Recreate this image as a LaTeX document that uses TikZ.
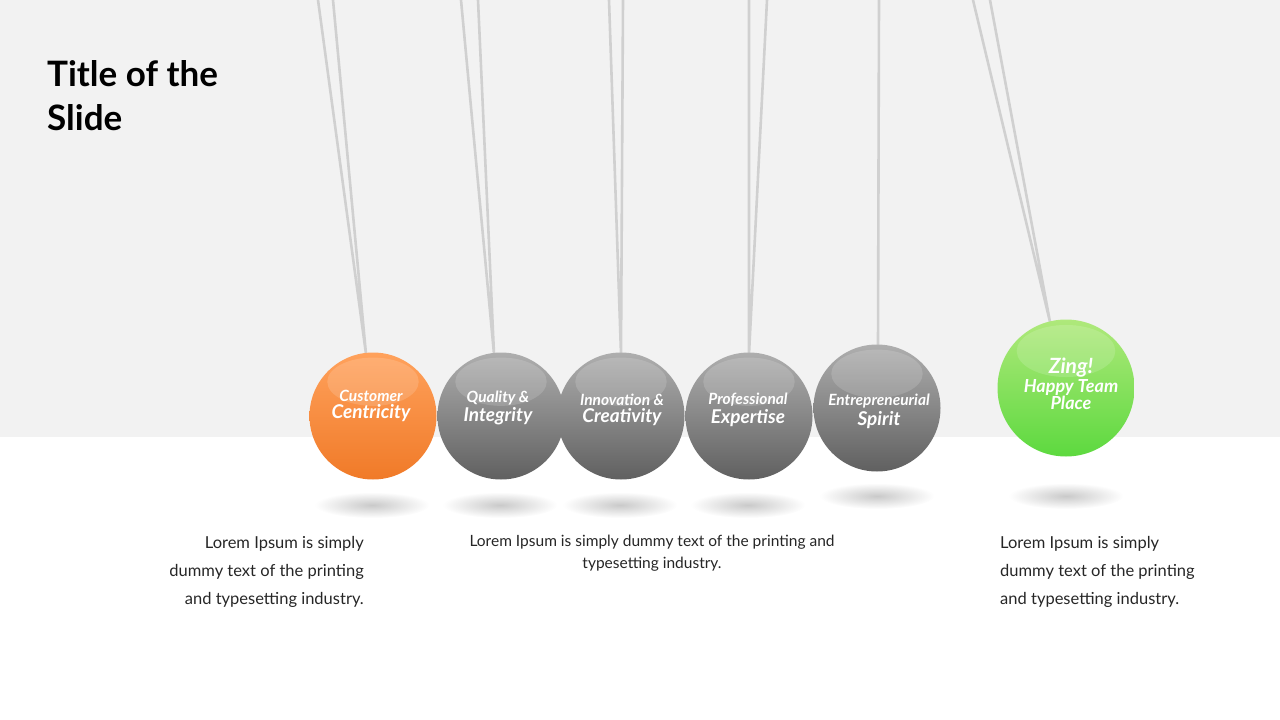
\documentclass[tikz,border=0pt]{standalone}
\usepackage{fontspec}
\setmainfont{Lato}
\usetikzlibrary{shapes.geometric}
\definecolor{bggray}{HTML}{F2F2F2}
\definecolor{orng}{HTML}{FF8A33}
\definecolor{orngd}{HTML}{F07A28}
\definecolor{grl}{HTML}{9A9A9A}
\definecolor{grd}{HTML}{606060}
\definecolor{grnl}{HTML}{9BE35A}
\definecolor{grnd}{HTML}{5DD93F}
\definecolor{strc}{HTML}{D0D0D0}
\tikzset{
  ball/.style={circle, minimum size=#1, inner sep=0pt, font=\bfseries\itshape, text=white, align=center},
  strg/.style={draw=strc, line width=2.6pt},
  shad/.style={ellipse, minimum width=115pt, minimum height=26pt, inner sep=0pt, inner color=black!35, outer color=white!0, opacity=0.6},
  body/.style={font=\fontsize{16.5}{28}\selectfont, text=black!85, align=#1}
}
\newcommand{\ballsm}[1]{{\fontsize{15.5}{17}\selectfont #1}}
\newcommand{\balllg}[1]{{\fontsize{19}{20}\selectfont #1}}
\begin{document}
\begin{tikzpicture}[x=1pt,y=-1pt]
\useasboundingbox (0,0) rectangle (1280,720);
\fill[bggray] (0,0) rectangle (1280,437);
\foreach \x/\y/\n in {372/505/s1,500/505/s2,620/505/s3,748/505/s4,877/496/s5,1066/496/s6}
  \node[shad] (\n) at (\x,\y) {};
\coordinate (t1a) at (318,0); \coordinate (t1b) at (333,0);
\coordinate (t2a) at (461,0); \coordinate (t2b) at (478,0);
\coordinate (t3a) at (609,0); \coordinate (t3b) at (623,0);
\coordinate (t4a) at (749,0); \coordinate (t4b) at (767,0);
\coordinate (t5a) at (879,0);
\coordinate (t6a) at (973,0); \coordinate (t6b) at (990,0);
\coordinate (k1) at (366,354); \coordinate (k2) at (494,354);
\coordinate (k3) at (621,354); \coordinate (k4) at (749,354);
\coordinate (k5) at (878,346); \coordinate (k6) at (1050,322);
\draw[strg] (t1a) -- (k1) -- (t1b);
\draw[strg] (t2a) -- (k2) -- (t2b);
\draw[strg] (t3a) -- (k3) -- (t3b);
\draw[strg] (t4a) -- (k4) -- (t4b);
\draw[strg] (t5a) -- (k5);
\draw[strg] (t6a) -- (k6) -- (t6b);
\foreach \x/\y/\r/\cl/\cd in {373/416/127/orng/orngd,501/416/127/grl/grd,621/416/127/grl/grd,749/416/127/grl/grd,877/408/127/grl/grd,1066/388/137/grnl/grnd}{
  \shade[top color=\cl!80!white, bottom color=\cd] (\x,\y) circle[radius=\r/2];
  \fill[white, opacity=0.15] (\x,\y-\r*0.27) ellipse[x radius=\r*0.36, y radius=\r*0.19];
}
\node[ball=127pt] (b1) at (371,406) {\ballsm{Customer}\\[2pt]\balllg{Centricity}};
\node[ball=127pt] (b2) at (498,408) {\ballsm{Quality \&}\\[2pt]\balllg{Integrity}};
\node[ball=127pt] (b3) at (622,410) {\ballsm{Innovation \&}\\[2pt]\balllg{Creativity}};
\node[ball=127pt] (b4) at (748,410) {\ballsm{Professional}\\[2pt]\balllg{Expertise}};
\node[ball=127pt] (b5) at (879,411) {\ballsm{Entrepreneurial}\\[2pt]\balllg{Spirit}};
\node[ball=137pt] (b6) at (1071,384) {{\fontsize{21}{24}\selectfont Zing!}\\[1pt]{\fontsize{18}{21}\selectfont Happy Team}\\[0pt]{\fontsize{18}{21}\selectfont Place}};
\node[anchor=north west, font=\bfseries\fontsize{35}{44}\selectfont, align=left, inner sep=0pt] (title) at (47,60) {Title of the\\Slide};
\node[body=right, anchor=north east, inner sep=0pt] (txt1) at (364,536) {Lorem Ipsum is simply\\dummy text of the printing\\and typesetting industry.};
\node[body=center, anchor=north, inner sep=0pt, font=\fontsize{15.5}{22}\selectfont] (txt2) at (652,535) {Lorem Ipsum is simply dummy text of the printing and\\typesetting industry.};
\node[body=left, anchor=north west, inner sep=0pt] (txt3) at (1000,536) {Lorem Ipsum is simply\\dummy text of the printing\\and typesetting industry.};
\end{tikzpicture}
\end{document}
